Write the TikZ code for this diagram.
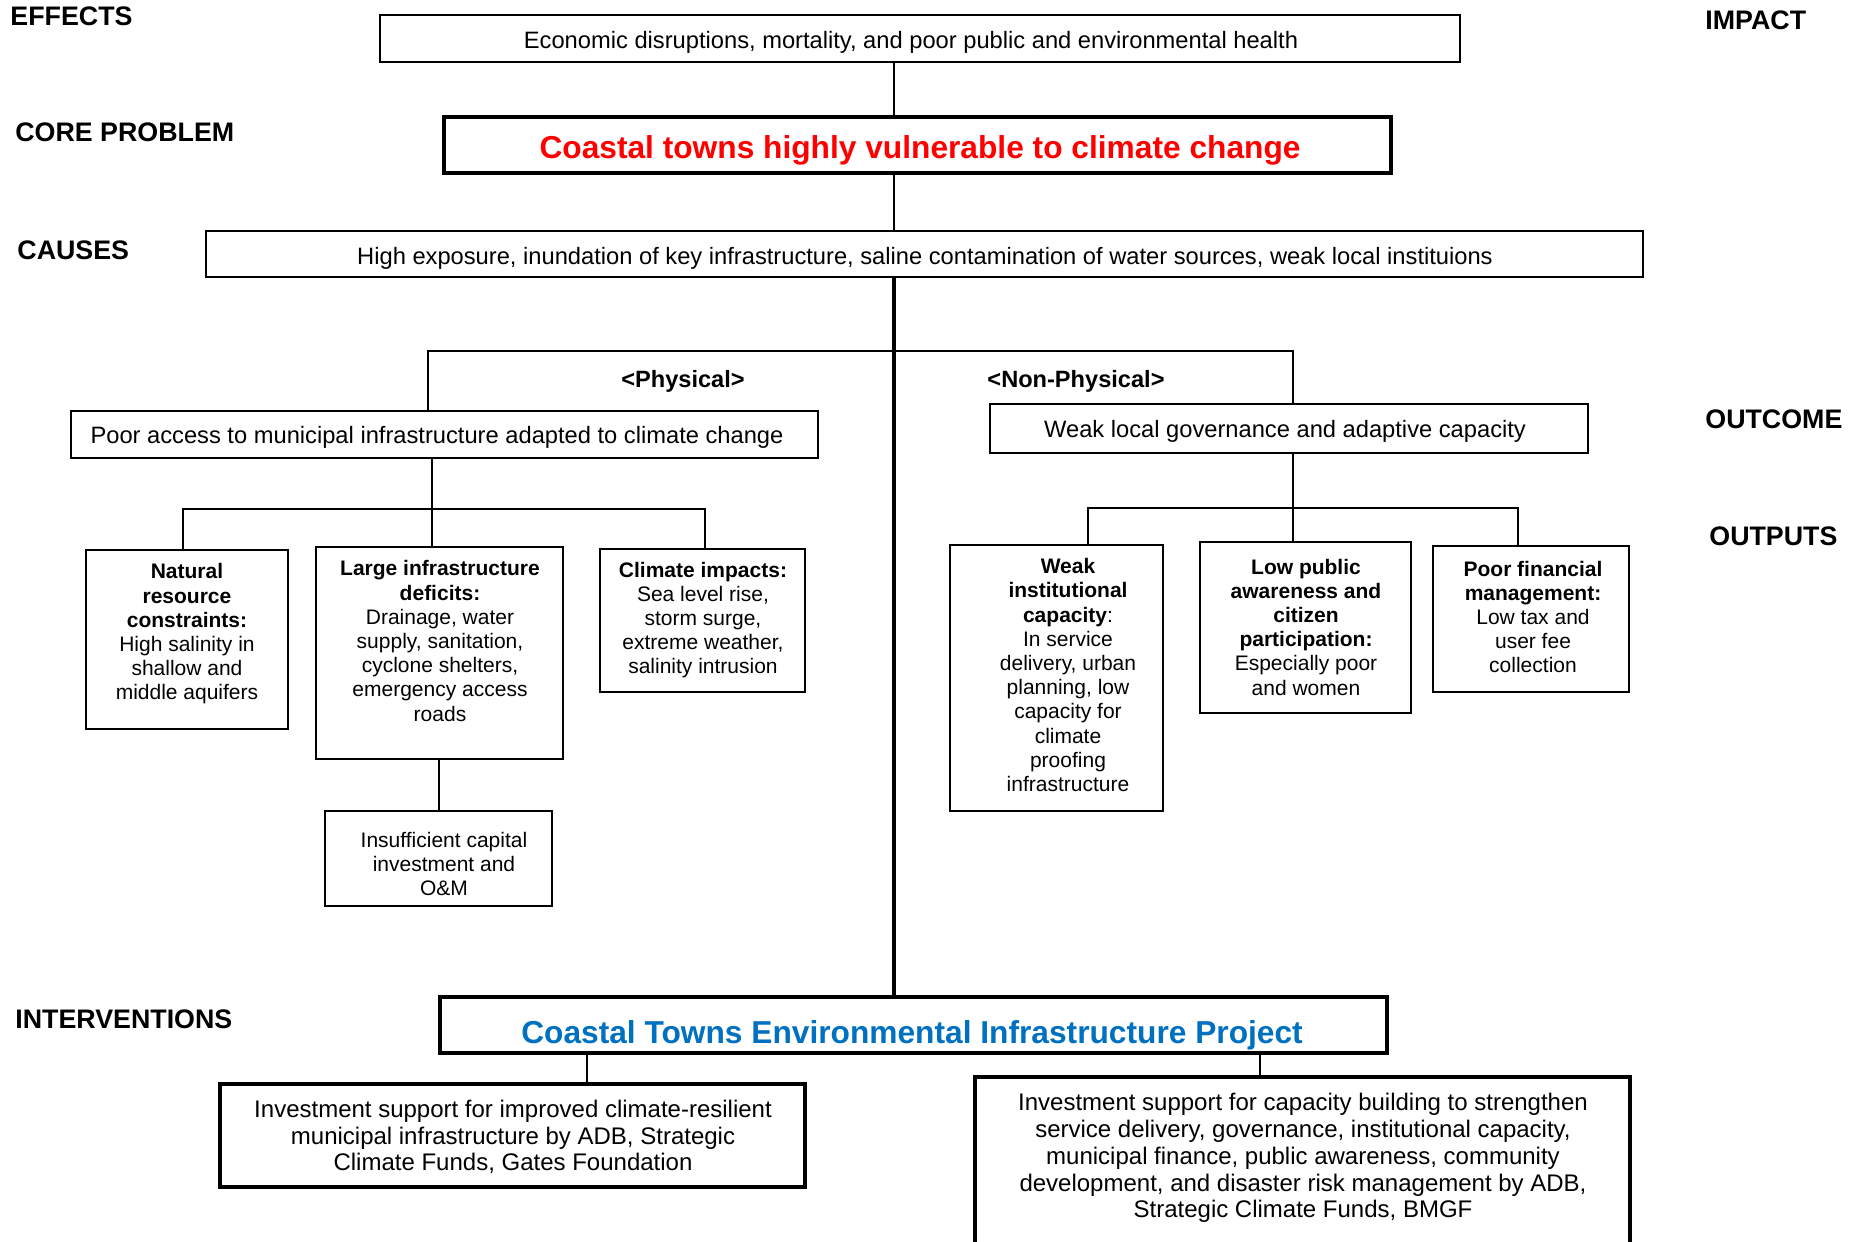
\documentclass[tikz,border=0pt]{standalone}
\usepackage{fontspec}
\setmainfont{Liberation Sans}
\definecolor{probred}{RGB}{255,0,0}
\definecolor{projblue}{RGB}{0,112,192}
\newcommand\mkbox[6]{\node[#6, minimum width={(#4-#2)*0.5pt}, minimum height={(#5-#3)*0.5pt}] (#1) at ({(#2+#4)/2},{(#3+#5)/2}) {};}
\begin{document}
\begin{tikzpicture}[x=0.5pt,y=-0.5pt,
  thinbox/.style={draw, line width=0.8pt, inner sep=0pt},
  medbox/.style={draw, line width=1.1pt, inner sep=0pt},
  outbox/.style={draw, line width=1.25pt, inner sep=0pt},
  thickbox/.style={draw, line width=2pt, inner sep=0pt},
  conn/.style={line width=0.75pt},
  spine/.style={line width=1.8pt},
  lab/.style={font=\fontsize{13.4pt}{15pt}\selectfont\bfseries, anchor=west, inner sep=0pt},
  body/.style={font=\fontsize{11.85pt}{13.5pt}\selectfont, inner sep=0pt},
  small/.style={font=\fontsize{10.5pt}{12.1pt}\selectfont, align=center, inner sep=0pt},
  bot/.style={font=\fontsize{12pt}{13.4pt}\selectfont, align=center, inner sep=0pt},
  branch/.style={font=\fontsize{11.8pt}{13pt}\selectfont\bfseries, inner sep=0pt},
  title/.style={font=\fontsize{15.85pt}{17pt}\selectfont\bfseries, inner sep=0pt}]
\useasboundingbox (0,0) rectangle (1858,1242);

% side labels
\node[lab] (lEff) at (10,16) {EFFECTS};
\node[lab] (lCore) at (15,132) {CORE PROBLEM};
\node[lab] (lCause) at (17,250) {CAUSES};
\node[lab] (lInt) at (15,1019) {INTERVENTIONS};
\node[lab] (lImp) at (1705,20) {IMPACT};
\node[lab] (lOutc) at (1705,419) {OUTCOME};
\node[lab] (lOutp) at (1709,536) {OUTPUTS};

% boxes
\mkbox{eff}{380}{15}{1460}{62}{thinbox}
\mkbox{core}{444}{117}{1391}{173}{thickbox}
\mkbox{cause}{206}{231}{1643}{277}{thinbox}
\mkbox{pa}{71}{411}{818}{458}{medbox}
\mkbox{wl}{990}{404}{1588}{453}{medbox}
\mkbox{nat}{86}{550}{288}{729}{outbox}
\mkbox{lg}{316}{547}{563}{759}{outbox}
\mkbox{cli}{600}{549}{805}{692}{outbox}
\mkbox{ins}{325}{811}{552}{906}{medbox}
\mkbox{wi}{950}{545}{1163}{811}{outbox}
\mkbox{lp}{1200}{542}{1411}{713}{outbox}
\mkbox{pf}{1433}{546}{1629}{692}{outbox}
\mkbox{proj}{440}{997}{1387}{1053}{thickbox}
\mkbox{il}{220}{1084}{805}{1187}{thickbox}
\mkbox{ir}{975}{1077}{1630}{1262}{thickbox}

% texts
\node[body] (tEff) at (911,42) {Economic disruptions, mortality, and poor public and environmental health};
\node[title, text=probred] (tCore) at (920,150) {Coastal towns highly vulnerable to climate change};
\node[body] (tCause) at (925,258) {High exposure, inundation of key infrastructure, saline contamination of water sources, weak local instituions};
\node[body] (tPa) at (437,437) {Poor access to municipal infrastructure adapted to climate change};
\node[body] (tWl) at (1285,431) {Weak local governance and adaptive capacity};
\node[branch] (tPhys) at (683,381) {<Physical>};
\node[branch] (tNon) at (1076,381) {<Non-Physical>};
\node[small] (tNat) at (187,634) {\textbf{Natural}\\\textbf{resource}\\\textbf{constraints:}\\High salinity in\\shallow and\\middle aquifers};
\node[small] (tLg) at (440,641) {\textbf{Large infrastructure}\\\textbf{deficits:}\\Drainage, water\\supply, sanitation,\\cyclone shelters,\\emergency access\\roads};
\node[small] (tCli) at (703,620) {\textbf{Climate impacts:}\\Sea level rise,\\storm surge,\\extreme weather,\\salinity intrusion};
\node[small] (tIns) at (444,864) {Insufficient capital\\investment and\\O\&M};
\node[small] (tWi) at (1068,675) {\textbf{Weak}\\\textbf{institutional}\\\textbf{capacity}:\\In service\\delivery, urban\\planning, low\\capacity for\\climate\\proofing\\infrastructure};
\node[small] (tLp) at (1306,627) {\textbf{Low public}\\\textbf{awareness and}\\\textbf{citizen}\\\textbf{participation:}\\Especially poor\\and women};
\node[small] (tPf) at (1533,617) {\textbf{Poor financial}\\\textbf{management:}\\Low tax and\\user fee\\collection};
\node[title, text=projblue] (tProj) at (912,1035) {Coastal Towns Environmental Infrastructure Project};
\node[bot] (tIl) at (513,1137) {Investment support for improved climate-resilient\\municipal infrastructure by ADB, Strategic\\Climate Funds, Gates Foundation};
\node[bot] (tIr) at (1303,1158) {Investment support for capacity building to strengthen\\service delivery, governance, institutional capacity,\\municipal finance, public awareness, community\\development, and disaster risk management by ADB,\\Strategic Climate Funds, BMGF};

% connector coordinates
\coordinate (cx) at (894,0);
\coordinate (bl) at (428,351);
\coordinate (br) at (1293,351);
\coordinate (pj) at (432,509);
\coordinate (p1) at (183,509);
\coordinate (p3) at (705,509);
\coordinate (nj) at (1293,508);
\coordinate (n1) at (1088,508);
\coordinate (n3) at (1518,508);
\coordinate (lgx) at (439,0);
\coordinate (blx) at (587,0);
\coordinate (brx) at (1260,0);

% connectors
\draw[conn] (eff.south -| cx) -- (core.north -| cx);
\draw[conn] (core.south -| cx) -- (cause.north -| cx);
\draw[spine] (cause.south -| cx) -- (proj.north -| cx);
\draw[conn] (pa.north -| bl) -- (bl) -- (br) -- (wl.north -| br);
\draw[conn] (pa.south -| pj) -- (pj);
\draw[conn] (nat.north -| p1) -- (p1) -- (p3) -- (cli.north -| p3);
\draw[conn] (pj) -- (lg.north -| pj);
\draw[conn] (lg.south -| lgx) -- (ins.north -| lgx);
\draw[conn] (wl.south -| nj) -- (nj);
\draw[conn] (wi.north -| n1) -- (n1) -- (n3) -- (pf.north -| n3);
\draw[conn] (nj) -- (lp.north -| nj);
\draw[conn] (proj.south -| blx) -- (il.north -| blx);
\draw[conn] (proj.south -| brx) -- (ir.north -| brx);
\end{tikzpicture}
\end{document}
